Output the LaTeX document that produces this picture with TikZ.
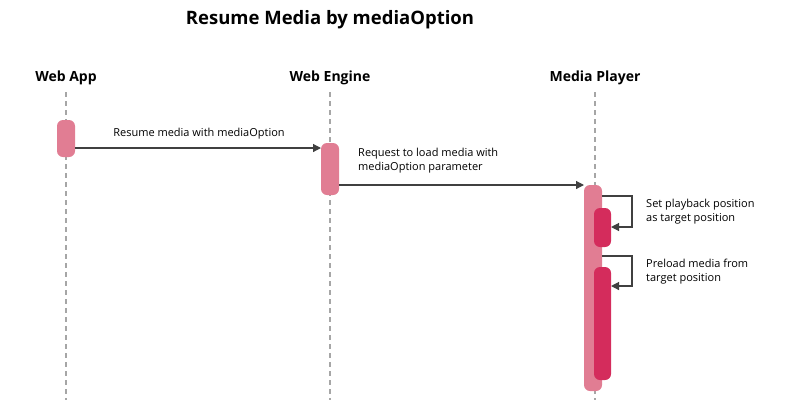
\documentclass[tikz,border=0pt]{standalone}
\usepackage{fontspec}
\setmainfont{Open Sans}
\usetikzlibrary{arrows.meta}
\definecolor{actA}{HTML}{E17D93}
\definecolor{actB}{HTML}{D42C5C}
\definecolor{lineC}{HTML}{404040}
\tikzset{
  life/.style={draw=gray!70, dashed, line width=1.2pt, dash pattern=on 5pt off 4pt},
  head/.style={font=\bfseries\fontsize{14}{16}\selectfont, inner sep=0pt},
  act/.style={fill=actA, rounded corners=6pt, draw=none},
  actin/.style={fill=actB, rounded corners=6pt, draw=none},
  msg/.style={draw=lineC, line width=1.2pt, -{Triangle[length=8pt,width=8pt]}},
  lbl/.style={font=\fontsize{11}{14}\selectfont, inner sep=0pt, align=left, text=black}
}
\begin{document}
\begin{tikzpicture}[x=1pt,y=-1pt]
\useasboundingbox (0,0) rectangle (791,402);
\node[font=\bfseries\fontsize{18.5}{22}\selectfont, inner sep=0pt] (title) at (330,20) {Resume Media by mediaOption};
\node[head] (ha) at (66,78) {Web App};
\node[head] (he) at (330,78) {Web Engine};
\node[head] (hm) at (595,78) {Media Player};
\coordinate (la1) at (66,92); \coordinate (la2) at (66,400);
\coordinate (le1) at (330,92); \coordinate (le2) at (330,400);
\coordinate (lm1) at (595,92); \coordinate (lm2) at (595,400);
\draw[life] (la1) -- (la2);
\draw[life] (le1) -- (le2);
\draw[life] (lm1) -- (lm2);
\path[act] (57,120) rectangle (75,157);
\path[act] (321,143) rectangle (339,195);
\path[act] (584,185) rectangle (602,391);
\path[actin] (594,208) rectangle (611,247);
\path[actin] (594,267) rectangle (611,380);
\coordinate (a1) at (75,148); \coordinate (a2) at (321,148);
\draw[msg] (a1) -- (a2);
\node[lbl, anchor=south] (m1) at (199,139) {Resume media with mediaOption};
\coordinate (b1) at (339,185); \coordinate (b2) at (584,185);
\draw[msg] (b1) -- (b2);
\node[lbl, anchor=north west] (m2) at (358,148) {Request to load media with\\mediaOption parameter};
\coordinate (c1) at (602,196); \coordinate (c2) at (611,227);
\draw[msg] (c1) -- (632,196) -- (632,227) -- (c2);
\node[lbl, anchor=north west] (m3) at (646,199) {Set playback position\\as target position};
\coordinate (d1) at (602,256); \coordinate (d2) at (611,286);
\draw[msg] (d1) -- (632,256) -- (632,286) -- (d2);
\node[lbl, anchor=north west] (m4) at (646,259) {Preload media from\\target position};
\end{tikzpicture}
\end{document}
